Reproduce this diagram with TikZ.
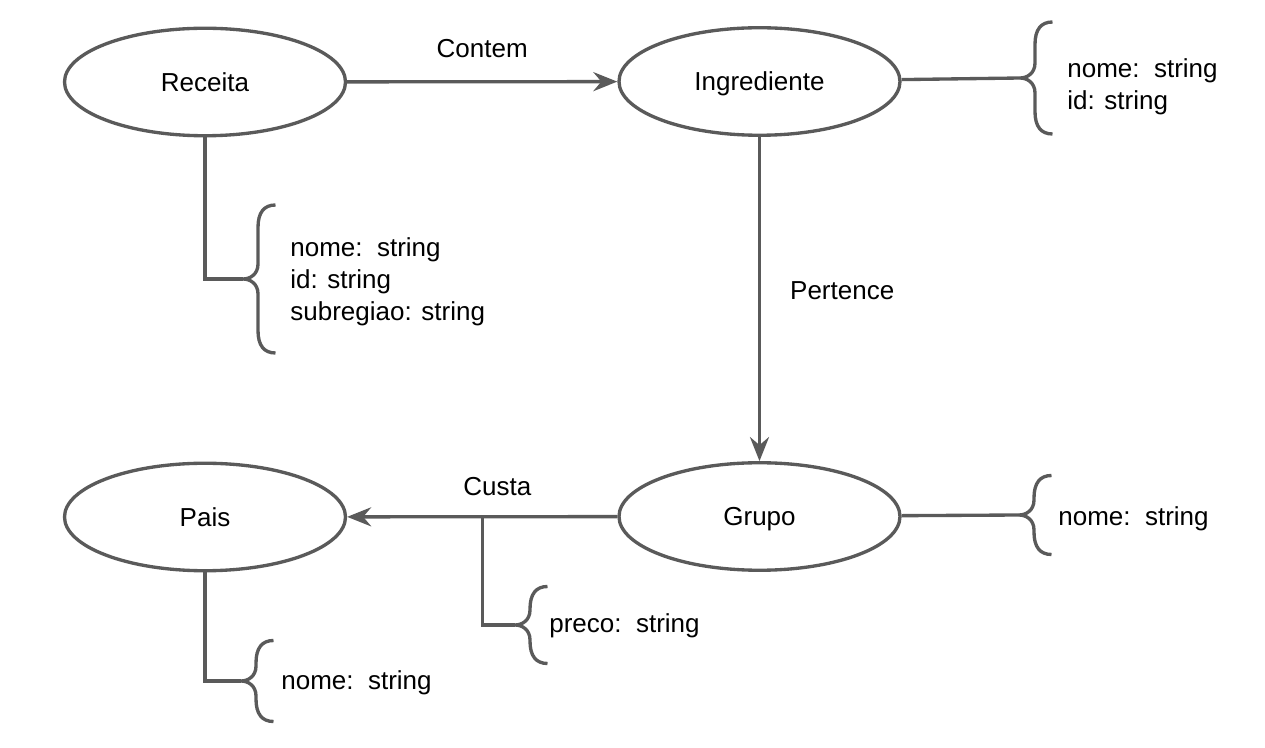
\documentclass[tikz,border=0pt]{standalone}
\usepackage{fontspec}
\setmainfont{Liberation Sans}
\usetikzlibrary{shapes.geometric,arrows.meta}
\definecolor{linegray}{HTML}{5A5A5A}
\tikzset{
  entity/.style={ellipse, draw=linegray, line width=1.9pt, minimum width=5.62cm,
    minimum height=2.15cm, inner sep=0pt, text height=14.6pt, text depth=4pt,
    font=\fontsize{14.8}{18}\selectfont},
  rel/.style={color=linegray, line width=1.9pt, -{Stealth[length=0.48cm,width=0.38cm,inset=0.16cm]}},
  link/.style={color=linegray, line width=1.9pt},
  lbl/.style={text=black, inner sep=0pt, font=\fontsize{14.8}{18}\selectfont},
  attr/.style={anchor=west, align=left, inner sep=0pt, font=\fontsize{14.8}{18.2}\selectfont}
}
\def\attrbrace#1#2{%
  \begin{scope}[shift={(#1)}]
    \draw[link] (0.65,#2) .. controls (0.42,#2) and (0.3,#2-0.15) .. (0.3,#2-0.45)
      -- (0.3,0.3) .. controls (0.3,0.1) and (0.15,0) .. (0,0)
      .. controls (0.15,0) and (0.3,-0.1) .. (0.3,-0.3)
      -- (0.3,-#2+0.45) .. controls (0.3,-#2+0.15) and (0.42,-#2) .. (0.65,-#2);
  \end{scope}}
\begin{document}
\begin{tikzpicture}
    \useasboundingbox (0,0) rectangle (25.3,-14.96);
    \node[entity] (rec) at (4.1,-1.64) {Receita};
    \node[entity] (ing) at (15.19,-1.63) {Ingrediente};
    \node[entity] (grp) at (15.19,-10.33) {Grupo};
    \node[entity] (pai) at (4.1,-10.34) {Pais};
    \coordinate (recb) at (4.86,-5.58);
    \coordinate (ingb) at (20.4,-1.56);
    \coordinate (grpb) at (20.38,-10.3);
    \coordinate (cstb) at (10.3,-12.5);
    \coordinate (paib) at (4.82,-13.62);
      \draw[rel] (rec) -- node[lbl,above=0.44cm] {Contem} (ing);
      \draw[rel] (ing) -- node[lbl,right=0.58cm,pos=0.475] {Pertence} (grp);
      \draw[rel] (grp) -- node[lbl,above=0.39cm,pos=0.444] {Custa} coordinate[pos=0.5] (cst) (pai);
      \draw[link] (rec) |- (recb);
      \draw[link] (ing) -- (ingb);
      \draw[link] (grp) -- (grpb);
      \draw[link] (cst) |- (cstb);
      \draw[link] (pai) |- (paib);
    \attrbrace{recb}{1.48}
    \attrbrace{ingb}{1.12}
    \attrbrace{grpb}{0.79}
    \attrbrace{cstb}{0.77}
    \attrbrace{paib}{0.81}
      \node[attr] (recattr) at (5.8,-5.64) {nome:\ \ string\\id: string\\subregiao: string};
      \node[attr] (ingattr) at (21.34,-1.74) {nome:\ \ string\\id: string};
      \node[attr] (grpattr) at (21.16,-10.38) {nome:\ \ string};
      \node[attr] (cstattr) at (10.98,-12.52) {preco:\ \ string};
      \node[attr] (paiattr) at (5.62,-13.66) {nome:\ \ string};
\end{tikzpicture}
\end{document}
